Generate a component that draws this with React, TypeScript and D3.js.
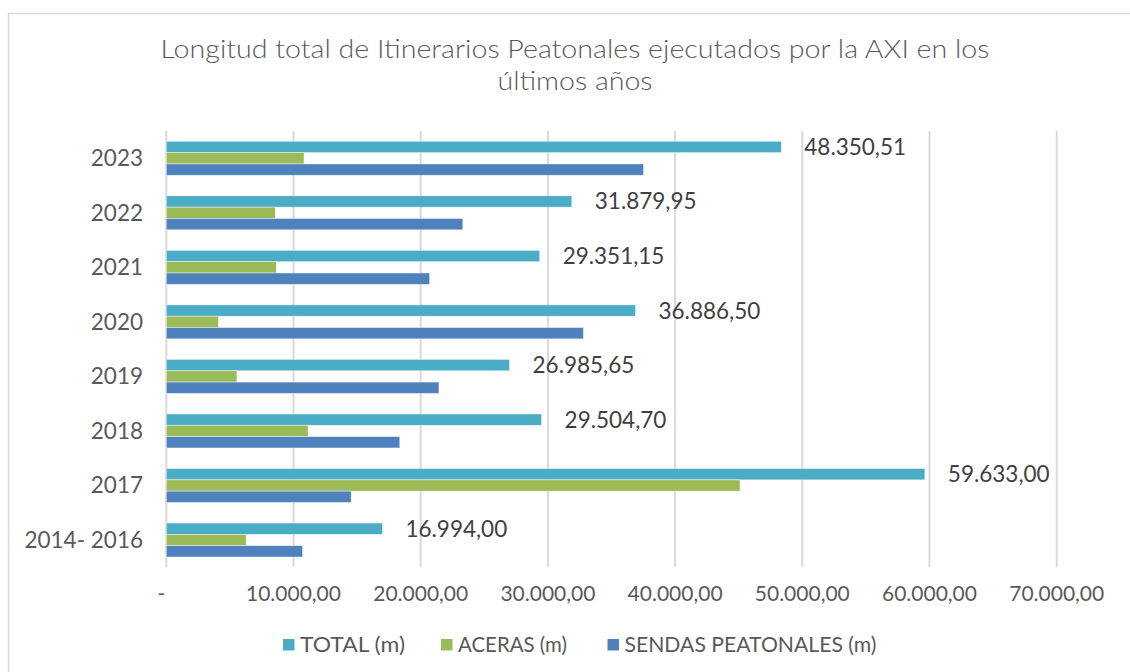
import React from "react";
import * as d3 from "d3";

const categories = ["2023", "2022", "2021", "2020", "2019", "2018", "2017", "2014- 2016"];
const totalValues = [48350.51, 31879.95, 29351.15, 36886.5, 26985.65, 29504.7, 59633.0, 16994.0];
const acerasValues = [10830, 8570, 8650, 4100, 5550, 11150, 45100, 6280];
const sendasValues = [37520, 23310, 20700, 32790, 21435, 18355, 14533, 10714];
const xTicks = [0, 10000, 20000, 30000, 40000, 50000, 60000, 70000];
const seriesNames = ["TOTAL (m)", "ACERAS (m)", "SENDAS PEATONALES (m)"];
const seriesColors = ["#4bacc6", "#9bbb59", "#4f81bd"];
const titleLines = [
  "Longitud total de Itinerarios Peatonales ejecutados por la AXI en los",
  "últimos años",
];

const locale = d3.formatLocale({ decimal: ",", thousands: ".", grouping: [3], currency: ["", "€"] });
const fmt = locale.format(",.2f");
const fmtTick = (v: number) => (v === 0 ? "-" : fmt(v));

const FONT = "Lato, 'Open Sans', sans-serif";

export default function App() {
  const W = 1130;
  const H = 672;
  const plotLeft = 166.3;
  const plotRight = 1056.7;
  const plotTop = 131;
  const plotBottom = 567.3;

  const x = d3.scaleLinear().domain([0, 70000]).range([plotLeft, plotRight]);
  const y = d3
    .scaleBand<string>()
    .domain(categories)
    .range([plotTop, plotBottom])
    .paddingInner(0.377)
    .paddingOuter(0.1885);
  const sub = d3.scaleBand<number>().domain([0, 1, 2]).range([0, y.bandwidth()]);

  const series = [totalValues, acerasValues, sendasValues];
  const legendX = [283, 441, 607.5];
  const legendLen = [105, 109, 252];
  const titleLen = [829, 155];

  return (
    <svg
      width={W}
      height={H}
      style={{ position: "absolute", left: 0, top: 0, background: "#fff" }}
      fontFamily={FONT}
    >
      <rect x={8.5} y={13.5} width={1200} height={800} fill="#fff" stroke="#d9d9d9" strokeWidth={1.5} />
      {titleLines.map((t, i) => (
        <text
          key={i}
          x={575}
          y={58 + i * 32}
          textAnchor="middle"
          fontSize={25}
          fontWeight={300}
          fill="#595959"
          textLength={titleLen[i]}
          lengthAdjust="spacingAndGlyphs"
        >
          {t}
        </text>
      ))}
      {xTicks.map((t) => (
        <line key={t} x1={x(t)} x2={x(t)} y1={plotTop} y2={plotBottom} stroke="#d9d9d9" strokeWidth={2} />
      ))}
      {xTicks.map((t) => (
        <text
          key={"l" + t}
          x={t === 0 ? x(t) - 5 : x(t)}
          y={601}
          textAnchor="middle"
          fontSize={21}
          fill="#595959"
        >
          {fmtTick(t)}
        </text>
      ))}
      {categories.map((c) => (
        <text
          key={c}
          x={143}
          y={(y(c) as number) + y.bandwidth() / 2 + 8}
          textAnchor="end"
          fontSize={22.5}
          fill="#595959"
        >
          {c}
        </text>
      ))}
      {series.map((vals, si) =>
        categories.map((c, ci) => (
          <rect
            key={si + "-" + ci}
            x={x(0)}
            y={(y(c) as number) + (sub(si) as number)}
            width={x(vals[ci]) - x(0)}
            height={sub.bandwidth()}
            fill={seriesColors[si]}
            stroke="#ffffff"
            strokeOpacity={0.6}
            strokeWidth={0.7}
          />
        ))
      )}
      {categories.map((c, ci) => (
        <text
          key={"dl" + c}
          x={x(totalValues[ci]) + 23}
          y={(y(c) as number) + (sub(0) as number) + sub.bandwidth() / 2 + 8}
          fontSize={22.5}
          fill="#404040"
        >
          {fmt(totalValues[ci])}
        </text>
      ))}
      {seriesNames.map((n, i) => (
        <g key={n} transform={`translate(${legendX[i]},639)`}>
          <rect x={0} y={0} width={11.5} height={11.5} fill={seriesColors[i]} />
          <text
            x={17}
            y={12.5}
            fontSize={21}
            fill="#595959"
            textLength={legendLen[i]}
            lengthAdjust="spacingAndGlyphs"
          >
            {n}
          </text>
        </g>
      ))}
    </svg>
  );
}
